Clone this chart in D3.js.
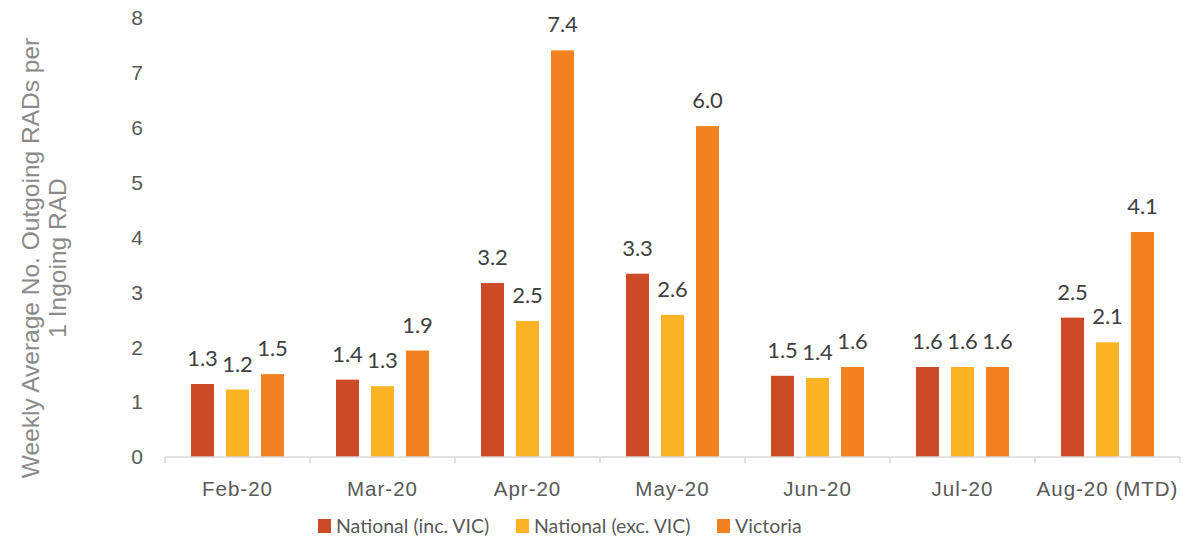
<!DOCTYPE html>
<html>
<head>
<meta charset="utf-8">
<script src="https://cdn.jsdelivr.net/npm/d3@7"></script>
<style>
  body { margin: 0; background: #fff; }
  svg { display: block; }
</style>
</head>
<body>
<div id="chart"></div>
<script>
const categories = ["Feb-20", "Mar-20", "Apr-20", "May-20", "Jun-20", "Jul-20", "Aug-20 (MTD)"];
const seriesNames = ["National (inc. VIC)", "National (exc. VIC)", "Victoria"];
const nationalInc = [1.33, 1.41, 3.17, 3.34, 1.48, 1.64, 2.54];
const nationalExc = [1.23, 1.29, 2.48, 2.59, 1.44, 1.64, 2.09];
const victoria = [1.51, 1.94, 7.41, 6.03, 1.64, 1.64, 4.10];
const yTicks = [0, 1, 2, 3, 4, 5, 6, 7, 8];
const colors = ["#cd4a26", "#fcb425", "#f1821f"];

const W = 1185, H = 540;
const margin = { left: 165, right: 5, top: 18, bottom: 83 };

const svg = d3.select("#chart").append("svg")
  .attr("width", W).attr("height", H);

const x0 = d3.scaleBand()
  .domain(categories)
  .range([margin.left, W - margin.right]);

const x1 = d3.scaleBand()
  .domain(seriesNames)
  .range([26, x0.bandwidth() - 26])
  .paddingInner(0.343);

const y = d3.scaleLinear()
  .domain([0, 8])
  .range([H - margin.bottom, margin.top]);

const rows = categories.map((c, i) => ({
  cat: c,
  vals: [nationalInc[i], nationalExc[i], victoria[i]]
}));

// bars
const groups = svg.selectAll("g.grp")
  .data(rows).enter().append("g")
  .attr("class", "grp")
  .attr("transform", d => "translate(" + x0(d.cat) + ",0)");

groups.selectAll("rect")
  .data(d => d.vals.map((v, j) => ({ name: seriesNames[j], v: v, j: j })))
  .enter().append("rect")
  .attr("x", d => x1(d.name))
  .attr("width", x1.bandwidth())
  .attr("y", d => y(d.v))
  .attr("height", d => y(0) - y(d.v))
  .attr("fill", d => colors[d.j]);

// value labels
groups.selectAll("text")
  .data(d => d.vals.map((v, j) => ({ name: seriesNames[j], v: v, j: j })))
  .enter().append("text")
  .attr("x", d => x1(d.name) + x1.bandwidth() / 2)
  .attr("y", d => y(d.v) - 18)
  .attr("text-anchor", "middle")
  .attr("font-family", "Lato, 'Open Sans', sans-serif")
  .attr("font-size", 22)
  .attr("fill", "#404040")
  .text(d => d3.format(".1f")(d.v));

// x axis
const xAxis = svg.append("g")
  .attr("transform", "translate(0," + y(0) + ")");
xAxis.append("line")
  .attr("x1", margin.left).attr("x2", W - margin.right)
  .attr("stroke", "#d9d9d9").attr("stroke-width", 1.5);
const edges = categories.map(c => x0(c)).concat([W - margin.right]);
xAxis.selectAll("line.tk")
  .data(edges).enter().append("line")
  .attr("class", "tk")
  .attr("x1", d => d).attr("x2", d => d)
  .attr("y1", 0).attr("y2", 6)
  .attr("stroke", "#d9d9d9").attr("stroke-width", 1.5);
xAxis.selectAll("text")
  .data(categories).enter().append("text")
  .attr("x", d => x0(d) + x0.bandwidth() / 2)
  .attr("y", 39)
  .attr("text-anchor", "middle")
  .attr("font-family", "'Liberation Sans', Arial, sans-serif")
  .attr("font-size", 20.5)
  .attr("letter-spacing", 1)
  .attr("fill", "#595959")
  .text(d => d);

// y axis labels
svg.append("g").selectAll("text")
  .data(yTicks).enter().append("text")
  .attr("x", 137)
  .attr("y", d => y(d))
  .attr("dy", "0.35em")
  .attr("text-anchor", "middle")
  .attr("font-family", "'Liberation Sans', Arial, sans-serif")
  .attr("font-size", 21)
  .attr("fill", "#595959")
  .text(d => d);

// y axis title
const title = svg.append("text")
  .attr("transform", "translate(0,258) rotate(-90)")
  .attr("text-anchor", "middle")
  .attr("font-family", "'Liberation Sans', Arial, sans-serif")
  .attr("font-size", 24.5)
  .attr("fill", "#8a8a8a");
title.append("tspan").attr("x", 0).attr("y", 39).text("Weekly Average No. Outgoing RADs per");
title.append("tspan").attr("x", 0).attr("y", 66).text("1 Ingoing RAD");

// legend
const legendX = [318, 516, 717];
const legend = svg.append("g").selectAll("g")
  .data(seriesNames).enter().append("g")
  .attr("transform", (d, i) => "translate(" + legendX[i] + ",519)");
legend.append("rect")
  .attr("width", 13).attr("height", 14)
  .attr("fill", (d, i) => colors[i]);
legend.append("text")
  .attr("x", 18).attr("y", 7).attr("dy", "0.35em")
  .attr("font-family", "Lato, 'Open Sans', sans-serif")
  .attr("font-size", 19.5)
  .attr("fill", "#595959")
  .text(d => d);
</script>
</body>
</html>
